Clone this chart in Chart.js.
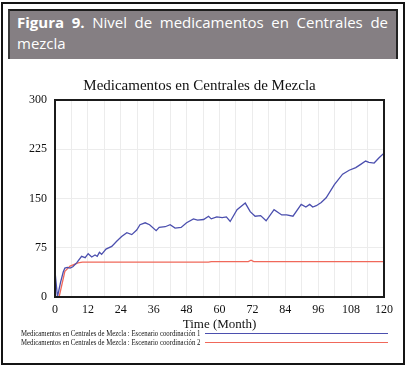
<!DOCTYPE html>
<html>
<head>
<meta charset="utf-8">
<script src="https://cdn.jsdelivr.net/npm/chart.js@4.4.0/dist/chart.umd.min.js"></script>
<style>
  * { box-sizing: border-box; }
  body { margin: 0; width: 407px; height: 368px; background: #fff; position: relative; overflow: hidden; }
  .frame { position: absolute; left: 1px; top: 2px; width: 404px; height: 363px; border: 2px solid #141414; }
  .header {
    position: absolute; left: 8px; top: 9px; width: 390px; height: 50px;
    background: #857f83; color: #fff;
    border-top: 2px solid #1c1c1c; border-left: 2px solid #3a3a3a; border-right: 2px solid #222;
    padding: 1px 8px 0 7px;
    font-family: "Open Sans", sans-serif; font-size: 15px; line-height: 21px;
    text-align: justify; text-align-last: left;
  }
  .header b { font-weight: 700; }
  #chart { position: absolute; left: 0; top: 0; }
  .legend-row { position: absolute; left: 0; width: 407px; height: 9px; }
  .legend-row span {
    position: absolute; left: 21px; top: 0; white-space: nowrap;
    font-family: "Liberation Serif", serif; font-size: 8px; line-height: 9px; color: #111;
    transform-origin: left center;
  }
  .legend-row i { position: absolute; left: 205px; width: 183px; top: 4px; height: 1px; }
</style>
</head>
<body>
<div class="frame"></div>
<div class="header"><b>Figura 9.</b> Nivel de medicamentos en Centrales de mezcla</div>
<canvas id="chart" width="407" height="368"></canvas>
<div class="legend-row" style="top:329px"><span id="leg1"></span><i id="line1"></i></div>
<div class="legend-row" style="top:338px"><span id="leg2"></span><i id="line2"></i></div>
<script>
// Chart text
const chartTitle = 'Medicamentos en Centrales de Mezcla';
const xTitle = 'Time (Month)';
const seriesNames = [
    'Medicamentos en Centrales de Mezcla : Escenario coordinación 1',
    'Medicamentos en Centrales de Mezcla : Escenario coordinación 2'
];
const seriesColors = ['#4b4fae', '#f0685a'];

// Escenario coordinación 1
const months1 = [0, 0.9, 2, 3, 3.6, 4.5, 5.5, 6.5, 7.9, 9.7, 11, 12.1, 13.4, 14.6, 15.4, 16.2, 17, 18.6, 20.7, 22.5,
    24.3, 26.2, 28, 29.8, 31, 32.9, 34.5, 36.9, 38, 40.2, 42, 43.8, 46, 48, 50.5, 52, 54.2, 56, 57, 59,
    61, 62.5, 63.9, 66.4, 69.4, 71.2, 73, 75, 77, 79.9, 82.7, 84.5, 86.8, 89.8, 91.5, 92.9, 94, 95.3, 97.1, 98.9,
    101.9, 104.9, 107.3, 109.7, 111.5, 113.3, 114.5, 116.4, 118.2, 120];
const values1 = [39, 0, 22, 38, 44, 45, 44, 46, 52, 62, 60, 66, 61, 64, 62, 68, 65, 73, 77, 85,
    92, 98, 95, 102, 110, 113, 110, 101, 106, 107, 110, 105, 106, 113, 119, 117, 118, 123, 119, 122,
    121, 122, 115, 133, 143, 130, 123, 124, 116, 133, 125, 125, 123, 141, 137, 141, 137, 139, 144, 151,
    171, 187, 193, 197, 202, 207, 205, 204, 212, 219];

// Escenario coordinación 2
const months2 = [0, 1.5, 3.6, 5.5, 8.4, 10, 56, 57, 70.5, 71.5, 72.5, 120];
const values2 = [0, 0, 39, 47, 52, 53, 53, 54, 54, 56, 54, 54];

// Axis ranges and ticks
const yTicks = [0, 75, 150, 225, 300];
const xLabelStep = 12;
const xGridStep = 6;

const serif = '"Liberation Serif", "Times New Roman", serif';

function toPoints(xs, ys) {
    return xs.map((x, i) => ({ x: x, y: ys[i] }));
}

// Black frame around the plot area
const plotBorder = {
    id: 'plotBorder',
    afterDatasetsDraw(chart) {
        const { ctx, chartArea: a } = chart;
        ctx.save();
        ctx.strokeStyle = '#1b1b1b';
        ctx.lineWidth = 2;
        ctx.strokeRect(a.left, a.top, a.right - a.left, a.bottom - a.top);
        ctx.restore();
    }
};

new Chart(document.getElementById('chart'), {
    type: 'line',
    data: {
        datasets: [
            { label: seriesNames[0], data: toPoints(months1, values1), borderColor: seriesColors[0], borderWidth: 1.3 },
            { label: seriesNames[1], data: toPoints(months2, values2), borderColor: seriesColors[1], borderWidth: 1.3 }
        ]
    },
    options: {
        responsive: false,
        animation: false,
        elements: { point: { radius: 0 }, line: { tension: 0, fill: false } },
        layout: { padding: { left: 15, right: 23, top: 69, bottom: 36 } },
        plugins: {
            legend: { display: false },
            tooltip: { enabled: false },
            title: {
                display: true, text: chartTitle, color: '#111',
                font: { family: serif, size: 15, weight: 'normal' },
                padding: { top: 8, bottom: 5 }
            }
        },
        scales: {
            x: {
                type: 'linear', min: 0, max: 120,
                afterFit: (s) => { s.height = 35; },
                ticks: {
                    stepSize: xGridStep, autoSkip: false, maxRotation: 0, padding: 6, color: '#111',
                    font: { family: serif, size: 12 },
                    callback: (v) => v % xLabelStep === 0 ? String(v) : ''
                },
                grid: { color: '#ececec', drawTicks: false },
                border: { display: false },
                title: {
                    display: true, text: xTitle, color: '#111',
                    font: { family: serif, size: 13 }, padding: { top: 0, bottom: 0 }
                }
            },
            y: {
                min: yTicks[0], max: yTicks[yTicks.length - 1],
                afterFit: (s) => { s.width = 40; },
                afterBuildTicks: (s) => { s.ticks = yTicks.map(v => ({ value: v })); },
                ticks: { padding: 8, color: '#111', font: { family: serif, size: 12 } },
                grid: { color: '#ececec', drawTicks: false },
                border: { display: false }
            }
        }
    },
    plugins: [plotBorder]
});

// Legend rows under the chart, squeezed to the width used in the picture
[['leg1', 'line1'], ['leg2', 'line2']].forEach(([t, l], i) => {
    const span = document.getElementById(t);
    span.textContent = seriesNames[i];
    span.style.transform = 'scaleX(' + (179 / span.offsetWidth) + ')';
    document.getElementById(l).style.background = seriesColors[i];
});
</script>
</body>
</html>
